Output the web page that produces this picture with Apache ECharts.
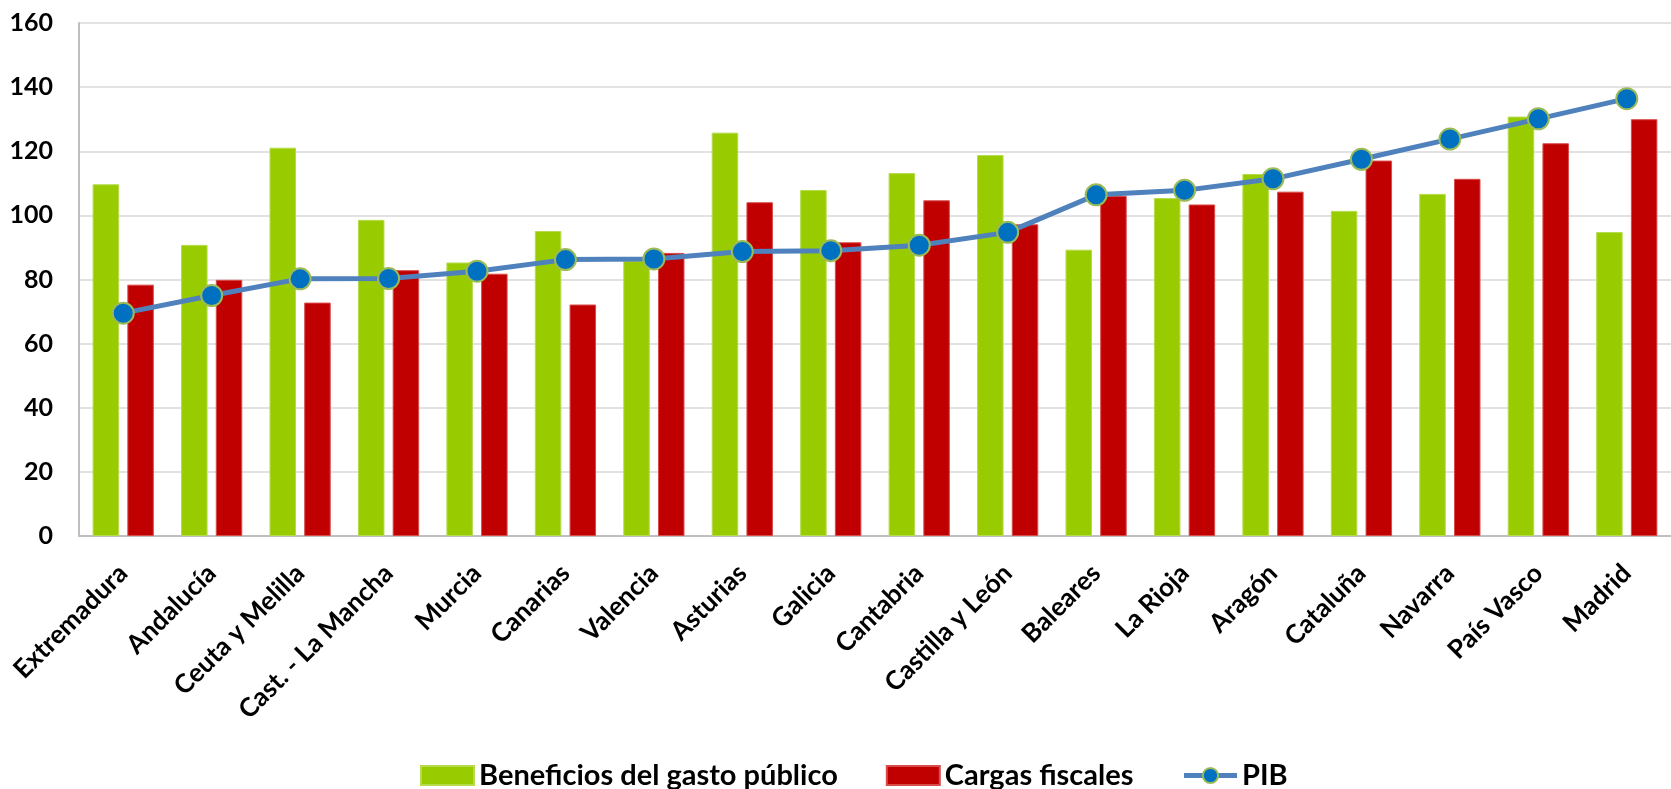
<!DOCTYPE html>
<html>
<head>
<meta charset="utf-8">
<script src="https://cdn.jsdelivr.net/npm/echarts@6/dist/echarts.min.js"></script>
<style>
html,body{margin:0;padding:0;background:#fff;}
#chart{width:1671px;height:789px;}
</style>
</head>
<body>
<div id="chart"></div>
<script>
const categories = ['Extremadura','Andalucía','Ceuta y Melilla','Cast. - La Mancha','Murcia','Canarias','Valencia','Asturias','Galicia','Cantabria','Castilla y León','Baleares','La Rioja','Aragón','Cataluña','Navarra','País Vasco','Madrid'];
const beneficios = [109.7, 90.8, 121.1, 98.6, 85.3, 95.1, 85.8, 125.8, 107.9, 113.2, 118.8, 89.3, 105.4, 112.9, 101.4, 106.7, 130.8, 94.8];
const cargas = [78.4, 79.9, 72.8, 82.9, 81.8, 72.2, 88.3, 104.1, 91.6, 104.7, 97.2, 106.1, 103.4, 107.4, 117.1, 111.4, 122.5, 130.0];
const pib = [69.5, 75.0, 80.2, 80.3, 82.6, 86.2, 86.4, 88.7, 89.0, 90.7, 94.7, 106.4, 107.8, 111.4, 117.5, 123.8, 130.1, 136.4];
const yTicks = [0, 20, 40, 60, 80, 100, 120, 140, 160];

const FONT = 'Lato';
const chart = echarts.init(document.getElementById('chart'), null, {renderer:'canvas'});
chart.setOption({
  backgroundColor: '#ffffff',
  animation: false,
  textStyle: {fontFamily: FONT},
  grid: {left: 79, top: 23, width: 1598, height: 513, containLabel: false},
  legend: {
    left: 415, top: 756,
    itemWidth: 53, itemHeight: 19, itemGap: 48,
    textStyle: {fontFamily: FONT, fontWeight: 'bold', fontSize: 29, color: '#000'},
    lineStyle: {width: 5},
    data: [
      {name: 'Beneficios del gasto público', icon: 'rect'},
      {name: 'Cargas fiscales', icon: 'rect'},
      {name: 'PIB'}
    ]
  },
  xAxis: {
    type: 'category',
    data: categories,
    boundaryGap: true,
    axisLine: {show: true, lineStyle: {color: '#BFBFBF', width: 2}},
    axisTick: {show: false},
    axisLabel: {interval: 0, rotate: 45, margin: 33, fontFamily: FONT, fontWeight: 'bold', fontSize: 26, color: '#000'}
  },
  yAxis: {
    type: 'value',
    min: yTicks[0], max: yTicks[yTicks.length-1], interval: 20,
    axisLine: {show: true, lineStyle: {color: '#BFBFBF', width: 2}},
    axisTick: {show: false},
    splitLine: {show: true, lineStyle: {color: '#D9D9D9', width: 1.5}},
    axisLabel: {margin: 26, fontFamily: FONT, fontWeight: 'bold', fontSize: 25, color: '#000'}
  },
  series: [
    {
      name: 'Beneficios del gasto público', type: 'bar', data: beneficios,
      barWidth: 26.5, barGap: '31%',
      itemStyle: {color: '#99CC00', borderColor: '#B5DB4C', borderWidth: 1}
    },
    {
      name: 'Cargas fiscales', type: 'bar', data: cargas,
      barWidth: 26.5, barGap: '31%',
      itemStyle: {color: '#C00000', borderColor: '#D84C4C', borderWidth: 1}
    },
    {
      name: 'PIB', type: 'line', data: pib,
      symbol: 'circle', symbolSize: 21,
      lineStyle: {color: '#4F81BD', width: 5},
      itemStyle: {color: '#0070C0', borderColor: '#9BBB59', borderWidth: 2},
      z: 5
    }
  ]
});
</script>
</body>
</html>
